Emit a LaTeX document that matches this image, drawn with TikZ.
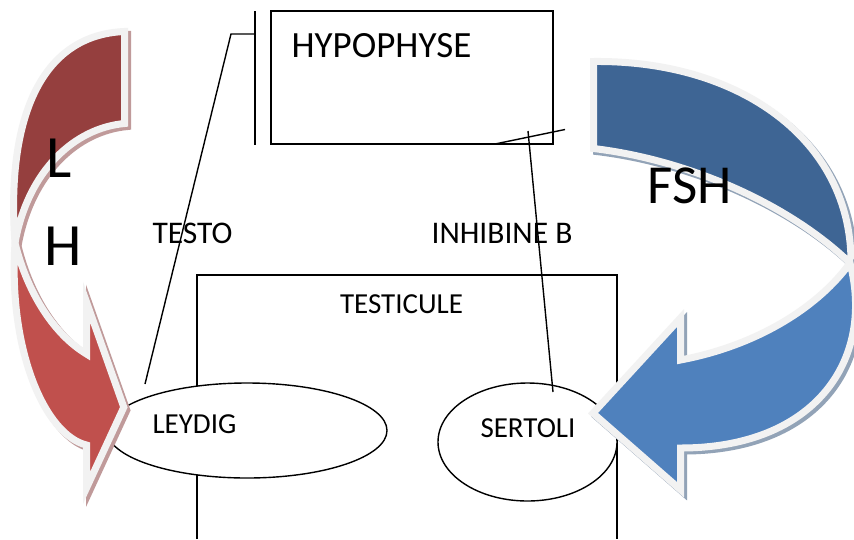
\documentclass[tikz,border=0pt]{standalone}
\usepackage{fontspec}
\setmainfont{Carlito}
\usetikzlibrary{shapes.geometric}
\definecolor{redback}{HTML}{953F3E}
\definecolor{redfront}{HTML}{C0504D}
\definecolor{blueback}{HTML}{3E6594}
\definecolor{bluefront}{HTML}{4F81BD}
\definecolor{rim}{HTML}{F2F2F2}
\definecolor{redshadow}{HTML}{C09A9A}
\definecolor{blueshadow}{HTML}{92A3B7}
\newcommand\redbackshape[1]{\path[#1] (124.5,31.5) -- (124.5,123.5) .. controls (75,128) and (28,170) .. (15,243) .. controls (6,120) and (40,35) .. (124.5,31.5) -- cycle;}
\newcommand\redfrontshape[1]{\path[#1] (15,243) .. controls (8,350) and (45,435) .. (86.5,445) -- (86.5,488) -- (123.8,407.2) -- (86.5,302) -- (86.5,354) .. controls (55,335) and (28,295) .. (15,243) -- cycle;}
\newcommand\bluebackshape[1]{\path[#1] (593.5,61.5) .. controls (740,60) and (851,140) .. (851,262) -- (850,263) .. controls (790,205) and (690,160) .. (593.5,148.5) -- cycle;}
\newcommand\bluefrontshape[1]{\path[#1] (850,263) .. controls (875,360) and (815,448) .. (680.5,448) -- (680.5,489.7) -- (593,413.2) -- (680.5,318) -- (680.5,360) .. controls (760,345) and (820,305) .. (850,263) -- cycle;}
\begin{document}
\begin{tikzpicture}[x=1pt,y=-1pt,
  thin line/.style={draw=black, line width=1.4pt},
  lbl/.style={font=\fontsize{29}{29}\selectfont, anchor=base, inner sep=0pt},
  lblb/.style={font=\fontsize{31.5}{31.5}\selectfont, anchor=base, inner sep=0pt},
  big/.style={font=\fontsize{37}{37}\selectfont, anchor=base, inner sep=0pt},
  huge/.style={font=\fontsize{60}{60}\selectfont, anchor=base, inner sep=0pt},
  cell/.style={ellipse, draw=black, fill=white, line width=1.4pt, inner sep=0pt},
  rimmed/.style={draw=rim, line width=7pt, line join=miter, miter limit=6},
  shadowed/.style={line width=7pt, line join=miter, miter limit=6, shift={(3,3)}}]
\useasboundingbox (0,0) rectangle (854,539);
\fill[white] (0,0) rectangle (854,539);

% hypophyse box
\node[draw=black, line width=1.4pt, minimum width=282pt, minimum height=133pt, inner sep=0pt] (hyp) at (412,77.5) {};
\node[big] (hyptxt) at (381.5,57) {HYPOPHYSE};

% testicule box (open at bottom)
\coordinate (tesBL) at (197,539);
\coordinate (tesTL) at (197,275);
\coordinate (tesTR) at (617,275);
\coordinate (tesBR) at (617,539);
\draw[thin line] (tesBL) -- (tesTL) -- (tesTR) -- (tesBR);
\node[lbl] (testicule) at (401.5,313) {TESTICULE};

% cells
\node[cell, minimum width=280pt, minimum height=95pt] (leydig) at (247,430.5) {};
\node[cell, minimum width=179pt, minimum height=118pt] (sertoli) at (527.5,442) {};
\node[lbl] (leydigtxt) at (194.5,433) {LEYDIG};
\node[lbl] (sertolitxt) at (528,437) {SERTOLI};

% labels
\node[lblb] (testo) at (192.5,243) {TESTO};
\node[lblb] (inhibine) at (502,243) {INHIBINE B};

% feedback lines
\coordinate (barT) at (255,11);
\coordinate (barB) at (255,145);
\coordinate (tk) at (231,34);
\coordinate (tkb) at (255,34);
\coordinate (testoEnd) at (145,384);
\coordinate (inA) at (495,144);
\coordinate (inB) at (565,129.5);
\coordinate (inhTop) at (528,131);
\coordinate (inhEnd) at (553,392);
\draw[thin line] (barT) -- (barB);
\draw[thin line] (testoEnd) -- (tk) -- (tkb);
\draw[thin line] (inA) -- (inB);
\draw[thin line] (inhTop) -- (inhEnd);

% LH arrow
\redbackshape{shadowed, fill=redshadow, draw=redshadow}
\redbackshape{rimmed, fill=redback}
\redfrontshape{shadowed, fill=redshadow, draw=redshadow}
\redfrontshape{rimmed, fill=redfront}

% FSH arrow
\bluebackshape{shadowed, fill=blueshadow, draw=blueshadow}
\bluebackshape{rimmed, fill=blueback}
\bluefrontshape{shadowed, fill=blueshadow, draw=blueshadow}
\bluefrontshape{rimmed, fill=bluefront}

% hormone names
\node[huge] (lL) at (59,177) {L};
\node[huge] (lH) at (63.5,265) {H};
\node[huge, font=\fontsize{55}{55}\selectfont] (fsh) at (690,203) {FSH};
\end{tikzpicture}
\end{document}
